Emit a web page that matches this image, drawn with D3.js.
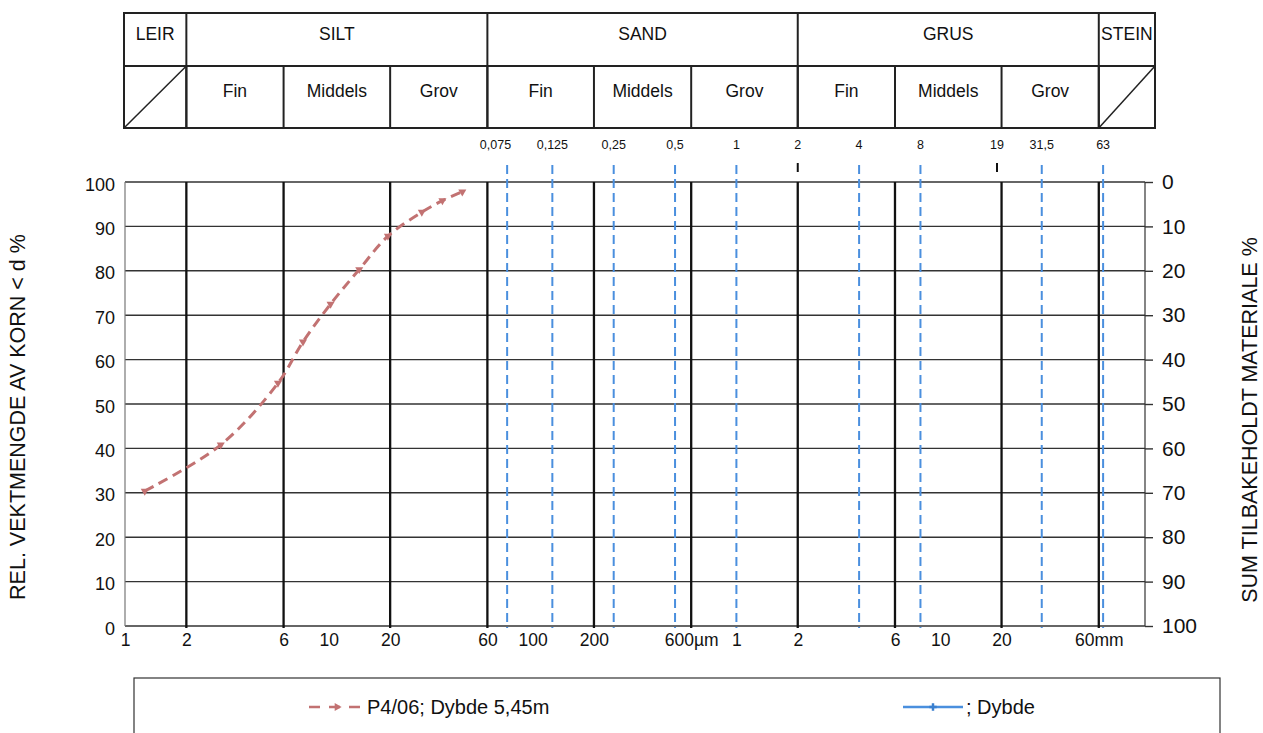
<!DOCTYPE html>
<html>
<head>
<meta charset="utf-8">
<script src="https://cdn.jsdelivr.net/npm/d3@7"></script>
<style>
  html, body { margin: 0; padding: 0; background: #fff; }
  svg { display: block; font-family: "Liberation Sans", Arial, sans-serif; }
</style>
</head>
<body>
<svg id="chart" width="1263" height="733"></svg>
<script>
// ---------- DATA ----------
const grainSize = [1.25, 2.95, 5.63, 7.47, 10.2, 14.1, 19.5, 28.6, 36.1, 45.2];   // µm
const passing   = [30.4, 40.8, 54.7, 64.0, 72.5, 80.3, 87.8, 93.2, 95.8, 97.8];   // %
const seriesName = "P4/06; Dybde 5,45m";
const series2Name = "; Dybde";

const mainClasses = ["LEIR", "SILT", "SAND", "GRUS", "STEIN"];
const mainBounds = [2, 60, 2000, 60000];                      // µm
const subClasses = ["", "Fin", "Middels", "Grov", "Fin", "Middels", "Grov", "Fin", "Middels", "Grov", ""];
const gridSizes = [2, 6, 20, 60, 200, 600, 2000, 6000, 20000, 60000]; // µm (black lines)
const sieveSizes = [75, 125, 250, 500, 1000, 4000, 8000, 31500, 63000]; // µm (blue dashed)
const topLabelSizes = [75, 125, 250, 500, 1000, 2000, 4000, 8000, 19000, 31500, 63000];
const topLabels = ["0,075", "0,125", "0,25", "0,5", "1", "2", "4", "8", "19", "31,5", "63"];
const blackTopTicks = [2000, 19000];
const xTickValues = [1, 2, 6, 10, 20, 60, 100, 200, 600, 1000, 2000, 6000, 10000, 20000, 60000];
const xTickLabels = ["1", "2", "6", "10", "20", "60", "100", "200", "600µm", "1", "2", "6", "10", "20", "60mm"];
const yTicks = [0, 10, 20, 30, 40, 50, 60, 70, 80, 90, 100];

// ---------- LAYOUT ----------
const svg = d3.select("#chart");
const pLeft = 125, pRight = 1145, pTop = 182, pBottom = 626;
const x = d3.scaleLog().domain([1, 100000]).range([125, 1144]);
const y = d3.scaleLinear().domain([0, 100]).range([pBottom, pTop]);

// ---------- TOP TABLE ----------
const tL = 124, tR = 1155, tT = 13, tM = 66, tB = 128;
const tbl = svg.append("g").attr("stroke", "#222").attr("stroke-width", 2).attr("fill", "none");
tbl.append("rect").attr("x", tL).attr("y", tT).attr("width", tR - tL).attr("height", tB - tT);
tbl.append("line").attr("x1", tL).attr("x2", tR).attr("y1", tM).attr("y2", tM);
mainBounds.forEach(b => tbl.append("line").attr("x1", x(b)).attr("x2", x(b)).attr("y1", tT).attr("y2", tB));
gridSizes.forEach(b => tbl.append("line").attr("x1", x(b)).attr("x2", x(b)).attr("y1", tM).attr("y2", tB));
tbl.append("line").attr("x1", tL).attr("y1", tB).attr("x2", x(2)).attr("y2", tM).attr("stroke-width", 1.5);
tbl.append("line").attr("x1", x(60000)).attr("y1", tB).attr("x2", tR).attr("y2", tM).attr("stroke-width", 1.5);

const mainEdges = [tL, ...mainBounds.map(x), tR];
mainClasses.forEach((c, i) => {
  svg.append("text").attr("x", (mainEdges[i] + mainEdges[i + 1]) / 2).attr("y", 34)
    .attr("text-anchor", "middle").attr("dominant-baseline", "central")
    .attr("font-size", 17.5).attr("fill", "#111").text(c);
});
const subEdges = [tL, ...gridSizes.map(x), tR];
subClasses.forEach((c, i) => {
  if (!c) return;
  svg.append("text").attr("x", (subEdges[i] + subEdges[i + 1]) / 2).attr("y", 91)
    .attr("text-anchor", "middle").attr("dominant-baseline", "central")
    .attr("font-size", 17.5).attr("fill", "#111").text(c);
});

// ---------- SIEVE LABELS ----------
topLabels.forEach((t, i) => {
  svg.append("text").attr("x", x(topLabelSizes[i]) + (i === 0 ? 4 : 0)).attr("y", 145)
    .attr("text-anchor", i === 0 ? "end" : "middle").attr("dominant-baseline", "central")
    .attr("font-size", 12.5).attr("fill", "#111").text(t);
});
blackTopTicks.forEach(s => svg.append("line").attr("x1", x(s)).attr("x2", x(s))
  .attr("y1", 163).attr("y2", 172).attr("stroke", "#111").attr("stroke-width", 2));

// ---------- GRID ----------
svg.append("g").selectAll("line").data(yTicks).join("line")
  .attr("x1", pLeft).attr("x2", pRight).attr("y1", d => y(d)).attr("y2", d => y(d))
  .attr("stroke", "#333").attr("stroke-width", 1.4);
svg.append("line").attr("x1", pLeft).attr("x2", pLeft).attr("y1", pTop).attr("y2", pBottom)
  .attr("stroke", "#777").attr("stroke-width", 1.2);
svg.append("line").attr("x1", pRight).attr("x2", pRight).attr("y1", pTop).attr("y2", pBottom)
  .attr("stroke", "#333").attr("stroke-width", 1.2);
svg.append("g").selectAll("line").data(sieveSizes).join("line")
  .attr("x1", d => x(d)).attr("x2", d => x(d)).attr("y1", 165).attr("y2", pBottom + 2)
  .attr("stroke", "#4a8fde").attr("stroke-width", 2).attr("stroke-dasharray", "9,5");
svg.append("g").selectAll("line").data(gridSizes).join("line")
  .attr("x1", d => x(d)).attr("x2", d => x(d)).attr("y1", pTop).attr("y2", pBottom + 2)
  .attr("stroke", "#111").attr("stroke-width", 2.3);

// ---------- AXES ----------
const yAxisL = svg.append("g").attr("transform", `translate(${pLeft},0)`)
  .call(d3.axisLeft(y).tickValues(yTicks).tickSize(0).tickPadding(10));
yAxisL.select(".domain").remove();
yAxisL.selectAll("text").attr("font-size", 18).attr("fill", "#111")
  .attr("font-family", "Liberation Sans, Arial, sans-serif").attr("dy", "0.45em");

const yAxisR = svg.append("g").attr("transform", `translate(${pRight},0)`)
  .call(d3.axisRight(y).tickValues(yTicks).tickSize(8).tickPadding(9).tickFormat(d => 100 - d));
yAxisR.select(".domain").remove();
yAxisR.selectAll("line").attr("stroke", "#333").attr("stroke-width", 1.4);
yAxisR.selectAll("text").attr("font-size", 21).attr("fill", "#111")
  .attr("font-family", "Liberation Sans, Arial, sans-serif");

const xAxis = svg.append("g").attr("transform", `translate(0,${pBottom})`)
  .call(d3.axisBottom(x).tickValues(xTickValues).tickSize(0).tickPadding(8)
    .tickFormat((d, i) => xTickLabels[i]));
xAxis.select(".domain").remove();
xAxis.selectAll("text").attr("font-size", 17.5).attr("fill", "#111")
  .attr("font-family", "Liberation Sans, Arial, sans-serif");

svg.append("text").attr("transform", "translate(18,417) rotate(-90)")
  .attr("text-anchor", "middle").attr("dominant-baseline", "central")
  .attr("font-size", 21.5).attr("fill", "#111").text("REL. VEKTMENGDE AV KORN < d %");
svg.append("text").attr("transform", "translate(1250,420) rotate(-90)")
  .attr("text-anchor", "middle").attr("dominant-baseline", "central")
  .attr("font-size", 21.5).attr("fill", "#111").text("SUM TILBAKEHOLDT MATERIALE %");

// ---------- SERIES ----------
const seriesColor = "#c27272";
const pts = grainSize.map((g, i) => [x(g), y(passing[i])]);
svg.append("path").datum(pts)
  .attr("d", d3.line().curve(d3.curveCatmullRom.alpha(0.5)))
  .attr("fill", "none").attr("stroke", seriesColor).attr("stroke-width", 3)
  .attr("stroke-dasharray", "10,6");
const tri = d3.symbol().type(d3.symbolTriangle).size(28);
svg.append("g").selectAll("path").data(pts).join("path")
  .attr("transform", d => `translate(${d[0]},${d[1]}) rotate(-60)`)
  .attr("d", tri).attr("fill", seriesColor);

// ---------- LEGEND ----------
svg.append("rect").attr("x", 134).attr("y", 678).attr("width", 1086).attr("height", 80)
  .attr("fill", "none").attr("stroke", "#333").attr("stroke-width", 1.2);
svg.append("line").attr("x1", 309).attr("x2", 362).attr("y1", 707).attr("y2", 707)
  .attr("stroke", seriesColor).attr("stroke-width", 2.5).attr("stroke-dasharray", "11,9");
svg.append("path").attr("transform", "translate(337,707) rotate(90)").attr("d", tri).attr("fill", seriesColor);
svg.append("text").attr("x", 367).attr("y", 707).attr("dominant-baseline", "central")
  .attr("font-size", 20).attr("fill", "#111").text(seriesName);
svg.append("line").attr("x1", 903).attr("x2", 963).attr("y1", 707).attr("y2", 707)
  .attr("stroke", "#4a8fde").attr("stroke-width", 2.5);
svg.append("path").attr("transform", "translate(933,707)")
  .attr("d", d3.symbol().type(d3.symbolCross).size(30)).attr("fill", "#3a7fcf");
svg.append("text").attr("x", 966).attr("y", 707).attr("dominant-baseline", "central")
  .attr("font-size", 20).attr("fill", "#111").text(series2Name);
</script>
</body>
</html>
